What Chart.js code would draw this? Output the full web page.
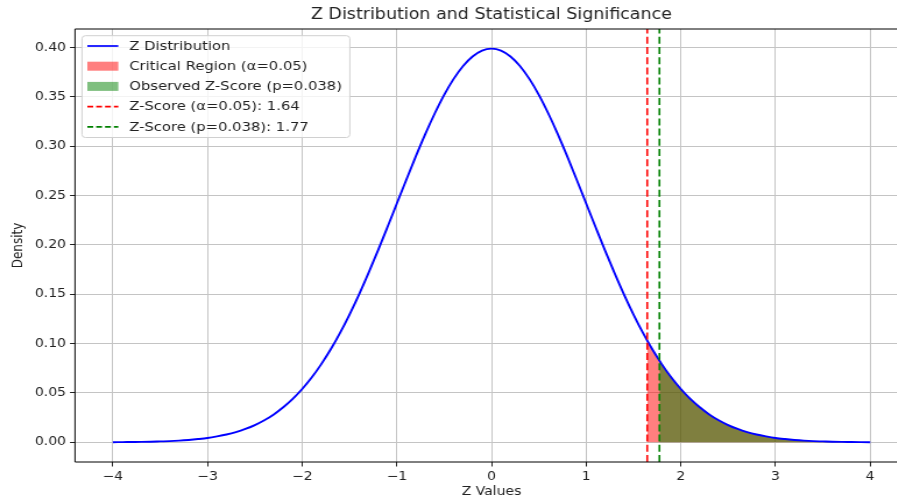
<!DOCTYPE html>
<html>
<head>
<meta charset="utf-8">
<script src="https://cdn.jsdelivr.net/npm/chart.js@4"></script>
<style>
  html, body { margin: 0; padding: 0; background: #fff; overflow: hidden; width: 897px; height: 504px; }
  /* the reference is stretched sideways, so the canvas is drawn narrow and widened by CSS */
  #chart { display: block; width: 920px; height: 504px; }
</style>
</head>
<body>
<canvas id="chart" width="790" height="504" style="width:920px;height:504px"></canvas>
<script>
// Z values along the x axis
const zValues = [
  -4.0, -3.9, -3.8, -3.7, -3.6, -3.5, -3.4, -3.3, -3.2, -3.1,
  -3.0, -2.9, -2.8, -2.7, -2.6, -2.5, -2.4, -2.3, -2.2, -2.1,
  -2.0, -1.9, -1.8, -1.7, -1.6, -1.5, -1.4, -1.3, -1.2, -1.1,
  -1.0, -0.9, -0.8, -0.7, -0.6, -0.5, -0.4, -0.3, -0.2, -0.1,
  0.0,
  0.1, 0.2, 0.3, 0.4, 0.5, 0.6, 0.7, 0.8, 0.9, 1.0,
  1.1, 1.2, 1.3, 1.4, 1.5, 1.6, 1.7, 1.8, 1.9, 2.0,
  2.1, 2.2, 2.3, 2.4, 2.5, 2.6, 2.7, 2.8, 2.9, 3.0,
  3.1, 3.2, 3.3, 3.4, 3.5, 3.6, 3.7, 3.8, 3.9, 4.0
];
// density
const density = [
  0.0001, 0.0002, 0.0003, 0.0004, 0.0006, 0.0009, 0.0012, 0.0017, 0.0024, 0.0033,
  0.0044, 0.0060, 0.0079, 0.0104, 0.0136, 0.0175, 0.0224, 0.0283, 0.0355, 0.0440,
  0.0540, 0.0656, 0.0790, 0.0940, 0.1109, 0.1295, 0.1497, 0.1714, 0.1942, 0.2179,
  0.2420, 0.2661, 0.2897, 0.3123, 0.3332, 0.3521, 0.3683, 0.3814, 0.3910, 0.3970,
  0.3989,
  0.3970, 0.3910, 0.3814, 0.3683, 0.3521, 0.3332, 0.3123, 0.2897, 0.2661, 0.2420,
  0.2179, 0.1942, 0.1714, 0.1497, 0.1295, 0.1109, 0.0940, 0.0790, 0.0656, 0.0540,
  0.0440, 0.0355, 0.0283, 0.0224, 0.0175, 0.0136, 0.0104, 0.0079, 0.0060, 0.0044,
  0.0033, 0.0024, 0.0017, 0.0012, 0.0009, 0.0006, 0.0004, 0.0003, 0.0002, 0.0001
];

// thresholds and the curve height where each region starts
const zCritical = 1.645;
const densityAtCritical = 0.1031;
const zObserved = 1.774;
const densityAtObserved = 0.0827;

// axis ranges and ticks
const xRange = [-4.4, 4.4];
const yRange = [-0.01995, 0.41883];
const xTicks = [-4, -3, -2, -1, 0, 1, 2, 3, 4];
const xTickLabels = ['\u22124', '\u22123', '\u22122', '\u22121', '0', '1', '2', '3', '4'];
const yTicks = [0, 0.05, 0.10, 0.15, 0.20, 0.25, 0.30, 0.35, 0.40];
const yTickLabels = ['0.00', '0.05', '0.10', '0.15', '0.20', '0.25', '0.30', '0.35', '0.40'];

// texts
const chartTitle = 'Z Distribution and Statistical Significance';
const xTitle = 'Z Values';
const yTitle = 'Density';
const seriesNames = [
  'Z Distribution',
  'Critical Region (\u03b1=0.05)',
  'Observed Z-Score (p=0.038)',
  'Z-Score (\u03b1=0.05): 1.64',
  'Z-Score (p=0.038): 1.77'
];

const FONT = '"DejaVu Sans", sans-serif';
const TEXT = '#222';

// curve points, and the tail points for the two shaded regions
const curve = zValues.map((z, i) => ({ x: z, y: density[i] }));
const tailFrom = (z0, d0) =>
  [{ x: z0, y: d0 }].concat(curve.filter(p => p.x > z0 + 0.001));

// draws the title, spines and the boxed legend
const decor = {
  id: 'decor',
  afterDraw(chart) {
    const ctx = chart.ctx;
    const a = chart.chartArea;
    ctx.save();

    // spines: top, left, bottom (right one is off the picture)
    ctx.strokeStyle = '#000';
    ctx.lineWidth = 1;
    ctx.beginPath();
    ctx.moveTo(a.left, a.top); ctx.lineTo(a.right, a.top);
    ctx.moveTo(a.left, a.top); ctx.lineTo(a.left, a.bottom);
    ctx.moveTo(a.left, a.bottom); ctx.lineTo(a.right, a.bottom);
    ctx.stroke();

    // title
    ctx.fillStyle = TEXT;
    ctx.font = '15px ' + FONT;
    ctx.textAlign = 'center';
    ctx.textBaseline = 'middle';
    ctx.fillText(chartTitle, (a.left + a.right) / 2, 15.5);

    // legend box
    const bx = 70.4, by = 35.7, bw = 230, bh = 101.8;
    ctx.fillStyle = 'rgba(255,255,255,0.8)';
    ctx.strokeStyle = '#d0d0d0';
    ctx.lineWidth = 1;
    ctx.beginPath();
    ctx.roundRect(bx, by, bw, bh, 3);
    ctx.fill();
    ctx.stroke();

    const hx0 = 75, hx1 = 101.6, tx = 111;
    const rows = [46, 66.2, 86.4, 106.6, 126.8];
    const styles = [
      { kind: 'line', color: '#0000ff', dash: [] },
      { kind: 'patch', color: 'rgba(255,0,0,0.5)' },
      { kind: 'patch', color: 'rgba(0,128,0,0.5)' },
      { kind: 'line', color: '#ff0000', dash: [5, 2.6] },
      { kind: 'line', color: '#008000', dash: [5, 2.6] }
    ];
    ctx.font = '12.7px ' + FONT;
    ctx.textAlign = 'left';
    rows.forEach((y, i) => {
      const s = styles[i];
      if (s.kind === 'patch') {
        ctx.fillStyle = s.color;
        ctx.fillRect(hx0, y - 4.5, hx1 - hx0, 9);
      } else {
        ctx.strokeStyle = s.color;
        ctx.lineWidth = 1.7;
        ctx.setLineDash(s.dash);
        ctx.beginPath();
        ctx.moveTo(hx0, y); ctx.lineTo(hx1, y);
        ctx.stroke();
        ctx.setLineDash([]);
      }
      ctx.fillStyle = TEXT;
      ctx.fillText(seriesNames[i], tx, y + 0.5);
    });

    ctx.restore();
  }
};

new Chart(document.getElementById('chart'), {
  type: 'line',
  data: {
    datasets: [
      {
        label: seriesNames[1],
        data: tailFrom(zCritical, densityAtCritical),
        borderWidth: 0,
        borderColor: 'rgba(0,0,0,0)',
        backgroundColor: 'rgba(255,0,0,0.5)',
        fill: 'origin',
        pointRadius: 0,
        cubicInterpolationMode: 'monotone',
        order: 5
      },
      {
        label: seriesNames[2],
        data: tailFrom(zObserved, densityAtObserved),
        borderWidth: 0,
        borderColor: 'rgba(0,0,0,0)',
        backgroundColor: 'rgba(0,128,0,0.5)',
        fill: 'origin',
        pointRadius: 0,
        cubicInterpolationMode: 'monotone',
        order: 4
      },
      {
        label: seriesNames[0],
        data: curve,
        borderColor: '#0000ff',
        borderWidth: 1.9,
        pointRadius: 0,
        fill: false,
        cubicInterpolationMode: 'monotone',
        order: 3
      },
      {
        label: seriesNames[3],
        data: [{ x: zCritical, y: yRange[0] }, { x: zCritical, y: yRange[1] }],
        borderColor: '#ff0000',
        borderWidth: 1.6,
        borderDash: [7, 3.2],
        pointRadius: 0,
        fill: false,
        order: 2
      },
      {
        label: seriesNames[4],
        data: [{ x: zObserved, y: yRange[0] }, { x: zObserved, y: yRange[1] }],
        borderColor: '#008000',
        borderWidth: 1.6,
        borderDash: [7, 3.2],
        pointRadius: 0,
        fill: false,
        order: 1
      }
    ]
  },
  options: {
    responsive: false,
    animation: false,
    events: [],
    layout: { padding: { top: 29, right: 10.3, left: 0, bottom: 0 } },
    plugins: {
      legend: { display: false },
      title: { display: false },
      tooltip: { enabled: false }
    },
    scales: {
      x: {
        type: 'linear',
        min: xRange[0],
        max: xRange[1],
        afterBuildTicks: s => { s.ticks = xTicks.map(v => ({ value: v })); },
        afterFit: s => { s.height = 42; },
        ticks: {
          autoSkip: false,
          maxRotation: 0,
          padding: 3.5,
          color: TEXT,
          font: { family: FONT, size: 12 },
          callback: v => xTickLabels[xTicks.indexOf(v)]
        },
        grid: { color: '#c4c4c4', lineWidth: 1, tickLength: 4.5, tickColor: '#222' },
        border: { display: false },
        title: {
          display: true,
          text: xTitle,
          color: TEXT,
          font: { family: FONT, size: 12 },
          padding: { top: 0, bottom: 4.8 }
        }
      },
      y: {
        type: 'linear',
        min: yRange[0],
        max: yRange[1],
        afterBuildTicks: s => { s.ticks = yTicks.map(v => ({ value: v })); },
        afterFit: s => { s.width = 64.4; },
        ticks: {
          autoSkip: false,
          padding: 3.4,
          color: TEXT,
          font: { family: FONT, size: 12 },
          callback: v => yTickLabels[yTicks.findIndex(t => Math.abs(t - v) < 1e-9)]
        },
        grid: { color: '#c4c4c4', lineWidth: 1, tickLength: 4.3, tickColor: '#222' },
        border: { display: false },
        title: {
          display: true,
          text: yTitle,
          color: TEXT,
          font: { family: FONT, size: 12 },
          padding: { top: 8.3, bottom: 0 }
        }
      }
    }
  },
  plugins: [decor]
});
</script>
</body>
</html>
